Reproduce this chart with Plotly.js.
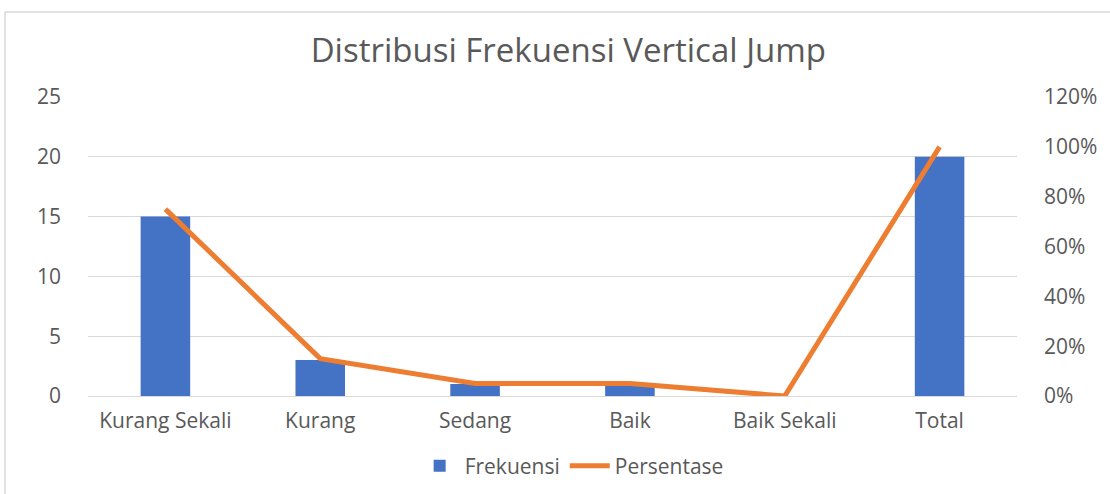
<!DOCTYPE html>
<html>
<head>
<meta charset="utf-8">
<script src="https://cdn.plot.ly/plotly-3.0.1.min.js"></script>
<style>
  html, body { margin: 0; padding: 0; background: #fff; }
  #chart { width: 1110px; height: 494px; }
</style>
</head>
<body>
<div id="chart"></div>
<script>
const categories = ["Kurang Sekali", "Kurang", "Sedang", "Baik", "Baik Sekali", "Total"];
const frekuensi = [15, 3, 1, 1, 0, 20];
const persentase = [0.75, 0.15, 0.05, 0.05, 0, 1.0];

const textColor = "#595959";
const fontFamily = "'Open Sans', Lato, sans-serif";

const traces = [
  {
    type: "bar",
    name: "Frekuensi",
    x: categories,
    y: frekuensi,
    marker: { color: "#4472C4" },
    yaxis: "y",
    hoverinfo: "x+y"
  },
  {
    type: "scatter",
    mode: "lines",
    name: "Persentase",
    x: categories,
    y: persentase,
    line: { color: "#ED7D31", width: 5 },
    yaxis: "y2"
  }
];

const layout = {
  width: 1110,
  height: 494,
  margin: { l: 88, r: 93, t: 97, b: 98, autoexpand: false },
  paper_bgcolor: "#ffffff",
  plot_bgcolor: "#ffffff",
  font: { family: fontFamily, color: textColor, size: 21 },
  title: {
    text: "Distribusi Frekuensi Vertical Jump",
    font: { size: 33, color: textColor, family: fontFamily },
    x: 0.512, xanchor: "center",
    y: (494 - 50) / 494, yanchor: "middle",
    yref: "container"
  },
  bargap: 0.68,
  showlegend: true,
  legend: {
    orientation: "h",
    x: 0.515, xanchor: "center",
    xref: "container",
    y: (494 - 466) / 494, yanchor: "middle",
    yref: "container",
    font: { size: 21, color: textColor },
    itemwidth: 40
  },
  xaxis: {
    type: "category",
    automargin: false,
    showgrid: false,
    showline: false,
    ticks: "",
    zeroline: false,
    tickfont: { size: 21, color: textColor },
    ticklabelstandoff: 10
  },
  yaxis: {
    range: [0, 25],
    dtick: 5,
    automargin: false,
    showgrid: true,
    gridcolor: "#D9D9D9",
    gridwidth: 1,
    zeroline: true,
    zerolinecolor: "#D9D9D9",
    zerolinewidth: 1,
    showline: false,
    ticks: "",
    tickfont: { size: 21, color: textColor },
    ticklabelstandoff: 26,
    fixedrange: true
  },
  yaxis2: {
    overlaying: "y",
    side: "right",
    range: [0, 1.2],
    dtick: 0.2,
    tickformat: ".0%",
    automargin: false,
    showgrid: false,
    zeroline: false,
    showline: false,
    ticks: "",
    tickfont: { size: 21, color: textColor },
    ticklabelstandoff: 26,
    fixedrange: true
  },
  shapes: [
    {
      type: "rect",
      xref: "paper", yref: "paper",
      x0: (5 - 88) / 929, x1: (1115 - 88) / 929,
      y0: (396 - 500) / 299, y1: (396 - 12) / 299,
      line: { color: "#D9D9D9", width: 1.5 },
      fillcolor: "rgba(0,0,0,0)",
      layer: "below"
    }
  ]
};

Plotly.newPlot("chart", traces, layout, { staticPlot: true, displayModeBar: false });
</script>
</body>
</html>
